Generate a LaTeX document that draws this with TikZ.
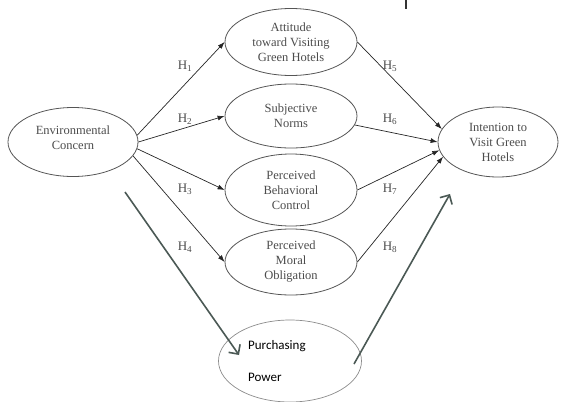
\documentclass[tikz,border=0pt]{standalone}
\usepackage{fontspec}
\setmainfont{Liberation Serif}
\newfontfamily\calibrifont{Carlito}
\usetikzlibrary{shapes.geometric,arrows.meta}
\definecolor{ovalgray}{HTML}{555555}
\definecolor{lightoval}{HTML}{8C8C8C}
\definecolor{slategray}{HTML}{4B5955}
\begin{document}
\begin{tikzpicture}[x=1pt,y=-1pt,
  oval/.style={ellipse, draw=ovalgray, line width=0.8pt, inner sep=0pt, text=black!70, align=center, font=\fontsize{12.5}{15}\selectfont},
  hyp/.style={-{Latex[length=7pt,width=5pt]}, line width=0.7pt, draw=black!85},
  hlabel/.style={text=black!70, font=\fontsize{13}{15}\selectfont},
  moderator/.style={-{Straight Barb[length=7pt,width=14pt]}, line width=1.6pt, draw=slategray}]
\useasboundingbox (0,0) rectangle (563,402);
% constructs
\node[oval, minimum width=130pt, minimum height=69pt] (ec) at (73,142) {};
\node[text=black!70, align=center, font=\fontsize{12.5}{15}\selectfont] (ectext) at (73,138) {Environmental\\Concern};
\node[oval, minimum width=132pt, minimum height=67pt] (att) at (291,42) {Attitude\\toward Visiting\\Green Hotels};
\node[oval, minimum width=132pt, minimum height=64pt] (sn) at (291,116) {Subjective\\Norms};
\node[oval, minimum width=132pt, minimum height=72pt] (pbc) at (291,190) {Perceived\\Behavioral\\Control};
\node[oval, minimum width=132pt, minimum height=66pt] (pmo) at (291,262) {Perceived\\Moral\\Obligation};
\node[oval, minimum width=120pt, minimum height=70pt] (int) at (498,142) {Intention to\\Visit Green\\Hotels};
\node[ellipse, draw=lightoval, line width=0.7pt, minimum width=143pt, minimum height=82pt] (pp) at (290,361) {};
\node[anchor=west, align=left, inner sep=0pt, font=\calibrifont\fontsize{13}{32}\selectfont] (pptext) at (248,361) {Purchasing\\Power};
% hypotheses
\draw[hyp] (ec.6) -- (att.west);
\draw[hyp] (ec.east) -- (sn.west);
\draw[hyp] (ec.-6) -- (pbc.west);
\draw[hyp] (ec.-13) -- (pmo.west);
\draw[hyp] (att.east) -- (int.167);
\draw[hyp] (sn.-8) -- (int.west);
\draw[hyp] (pbc.east) -- (int.188);
\draw[hyp] (pmo.east) -- (int.195);
\node[hlabel] (h1) at (185,66) {H\textsubscript{1}};
\node[hlabel] (h2) at (185,119) {H\textsubscript{2}};
\node[hlabel] (h3) at (185,189) {H\textsubscript{3}};
\node[hlabel] (h4) at (185,247) {H\textsubscript{4}};
\node[hlabel] (h5) at (390,66) {H\textsubscript{5}};
\node[hlabel] (h6) at (390,119) {H\textsubscript{6}};
\node[hlabel] (h7) at (390,189) {H\textsubscript{7}};
\node[hlabel] (h8) at (390,247) {H\textsubscript{8}};
% moderator arrows
\coordinate (ecfoot) at (125,192);
\coordinate (pphead) at (239,355);
\coordinate (pptail) at (354,364);
\coordinate (intfoot) at (450,194);
\draw[moderator] (ecfoot) -- (pphead);
\draw[moderator] (pptail) -- (intfoot);
% stray mark at the top
\draw[line width=1.1pt, black!80] (406,0) -- (406,9);
\end{tikzpicture}
\end{document}
